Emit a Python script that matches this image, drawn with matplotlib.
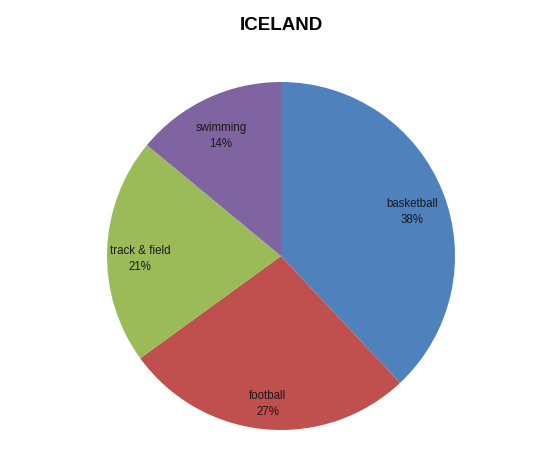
import numpy as np
import matplotlib.pyplot as plt

sports = ["basketball", "football", "track & field", "swimming"]
shares = [38, 27, 21, 14]
colors = ["#4F81BD", "#C0504D", "#9BBB59", "#8064A2"]

fig = plt.figure(figsize=(5.6, 4.71), dpi=100)
ax = fig.add_axes([107 / 560, 41 / 471, 348 / 560, 348 / 471])

wedges, texts = ax.pie(shares, colors=colors, startangle=90, counterclock=False,
                       radius=1.0, wedgeprops={"linewidth": 0})

# put the labels inside the slices, a bit below the radial midpoint like excel does
for w, name, pct in zip(wedges, sports, shares):
    ang = np.deg2rad((w.theta1 + w.theta2) / 2)
    ax.text(0.81 * np.cos(ang), 0.81 * np.sin(ang) - 0.045, f"{name}\n{pct}%",
            ha="center", va="center", fontsize=8.3, family="Liberation Sans",
            color="#1a1a1a", linespacing=1.45)

ax.set_xlim(-1, 1)
ax.set_ylim(-1, 1)
ax.set_aspect("equal")
ax.axis("off")

fig.text(281 / 560, 1 - 25 / 471, "ICELAND", ha="center", va="center",
         fontsize=13.5, fontweight="bold", family="Liberation Sans")

fig.savefig("out.png", dpi=100)
